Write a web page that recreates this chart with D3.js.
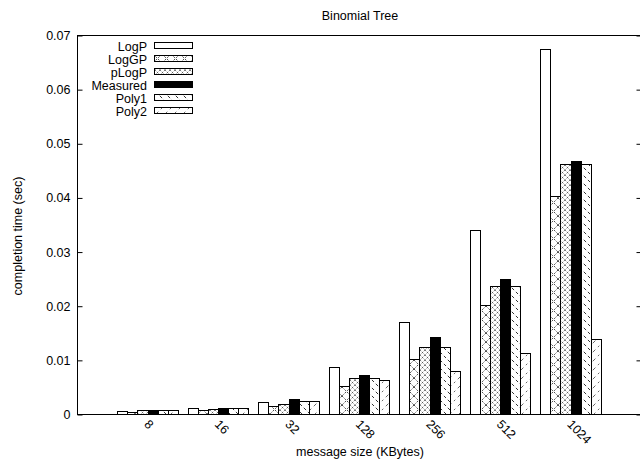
<!DOCTYPE html>
<html>
<head>
<meta charset="utf-8">
<script src="https://cdn.jsdelivr.net/npm/d3@7"></script>
<style>
  body { margin: 0; background: #fff; }
  text { font-family: "Liberation Sans", Arial, Helvetica, sans-serif; fill: #000; }
</style>
</head>
<body>
<svg id="chart"></svg>
<script>
// message sizes (x categories)
var sizes = ["8", "16", "32", "128", "256", "512", "1024"];
var seriesNames = ["LogP", "LogGP", "pLogP", "Measured", "Poly1", "Poly2"];
// completion time (sec)
var logP     = [0.00062, 0.00117, 0.00228, 0.00864, 0.0170, 0.0339, 0.0675];
var logGP    = [0.00037, 0.00080, 0.00148, 0.00525, 0.0101, 0.0201, 0.0402];
var pLogP    = [0.00080, 0.00098, 0.00190, 0.00670, 0.01235, 0.0236, 0.0462];
var measured = [0.00075, 0.00117, 0.00278, 0.00728, 0.0143, 0.0249, 0.0467];
var poly1    = [0.00080, 0.00117, 0.00235, 0.00670, 0.01235, 0.0236, 0.0462];
var poly2    = [0.00075, 0.00110, 0.00235, 0.00636, 0.0080, 0.0113, 0.0138];
var yTicks = [0, 0.01, 0.02, 0.03, 0.04, 0.05, 0.06, 0.07];

var allSeries = [logP, logGP, pLogP, measured, poly1, poly2];
var fills = ["#fff", "url(#pLogGP)", "url(#pPLogP)", "#000", "url(#pPoly1)", "url(#pPoly2)"];

var width = 640, height = 462;
var margin = {top: 35, right: -1, bottom: 48, left: 77};

var svg = d3.select("#chart")
    .attr("width", width)
    .attr("height", height);

//patterns for the bar fills
var defs = svg.append("defs");
function pattern(id, size, paths, sw, dash, col) {
  var p = defs.append("pattern")
      .attr("id", id)
      .attr("patternUnits", "userSpaceOnUse")
      .attr("width", size)
      .attr("height", size);
  p.append("rect").attr("width", size).attr("height", size).attr("fill", "#fff");
  p.append("path")
      .attr("d", paths)
      .attr("stroke", col || "#000")
      .attr("stroke-width", sw)
      .attr("stroke-dasharray", dash || null)
      .attr("fill", "none");
}
pattern("pLogGP", 9, "M0,0L9,9M9,0L0,9", 0.7, "2,1.5");
pattern("pPLogP", 5, "M0,0L5,5M5,0L0,5", 0.6, "1.5,1", "#222");
pattern("pPoly1", 8, "M0,0L8,8", 0.8, "3,2.5");
pattern("pPoly2", 9, "M0,9L9,0", 0.6, "2,3.5");

var x = d3.scaleLinear()
    .domain([-1, 7])
    .range([margin.left, width - margin.right]);

var y = d3.scaleLinear()
    .domain([0, 0.07])
    .range([height - margin.bottom, margin.top]);

var slot = 1 / 7;

// bars
seriesNames.forEach(function(name, j) {
  svg.append("g")
    .selectAll("rect")
    .data(allSeries[j])
    .enter()
    .append("rect")
      .attr("x", (d, i) => Math.round(x(i + (j - 3) * slot)) + 0.5)
      .attr("width", (d, i) => Math.round(x(i + (j - 2) * slot)) - Math.round(x(i + (j - 3) * slot)))
      .attr("y", d => Math.round(y(d)) + 0.5)
      .attr("height", d => Math.round(y(0)) - Math.round(y(d)))
      .attr("fill", fills[j])
      .attr("stroke", "#000")
      .attr("stroke-width", 1);
});

// frame
svg.append("rect")
    .attr("x", Math.round(x.range()[0]) + 0.5)
    .attr("y", Math.round(y(0.07)) + 0.5)
    .attr("width", Math.round(x.range()[1]) - Math.round(x.range()[0]))
    .attr("height", Math.round(y(0)) - Math.round(y(0.07)))
    .attr("fill", "none")
    .attr("stroke", "#000")
    .attr("stroke-width", 1);

var yAxis = d3.axisLeft(y)
    .tickValues(yTicks)
    .tickSizeInner(-5)
    .tickSizeOuter(0)
    .tickPadding(7)
    .tickFormat(d => d === 0 ? "0" : d3.format(".2f")(d));

var gy = svg.append("g")
    .attr("transform", "translate(" + (Math.round(x.range()[0]) + 0.5) + ",0.5)")
    .call(yAxis);
gy.select(".domain").remove();
gy.selectAll("text").style("font-size", "12.5px").attr("font-family", null);

var gy2 = svg.append("g")
    .attr("transform", "translate(" + (Math.round(x.range()[1]) + 0.5) + ",0.5)")
    .call(d3.axisRight(y).tickValues(yTicks).tickSizeInner(-5).tickSizeOuter(0).tickFormat(""));
gy2.select(".domain").remove();

// x tick labels, rotated
svg.append("g")
  .selectAll("text")
  .data(sizes)
  .enter()
  .append("text")
    .attr("transform", (d, i) => "translate(" + (x(i) - 4) + "," + (y(0) + 11) + ") rotate(45)")
    .style("font-size", "12.5px")
    .text(d => d);

// legend
var legend = svg.append("g");
seriesNames.forEach(function(name, j) {
  var cy = 46 + j * 13;
  legend.append("text")
      .attr("x", 147)
      .attr("y", cy + 4.5)
      .attr("text-anchor", "end")
      .style("font-size", "12.5px")
      .text(name);
  legend.append("rect")
      .attr("x", 154.5)
      .attr("y", cy - 3.5)
      .attr("width", 38)
      .attr("height", 6)
      .attr("fill", fills[j])
      .attr("stroke", "#000")
      .attr("stroke-width", 1);
});

// titles
svg.append("text")
    .attr("x", 360)
    .attr("y", 20)
    .attr("text-anchor", "middle")
    .style("font-size", "12.5px")
    .text("Binomial Tree");

svg.append("text")
    .attr("x", 360)
    .attr("y", 456)
    .attr("text-anchor", "middle")
    .style("font-size", "12.5px")
    .text("message size (KBytes)");

svg.append("text")
    .attr("transform", "translate(22," + 236 + ") rotate(-90)")
    .attr("text-anchor", "middle")
    .style("font-size", "12.5px")
    .text("completion time (sec)");
</script>
</body>
</html>
